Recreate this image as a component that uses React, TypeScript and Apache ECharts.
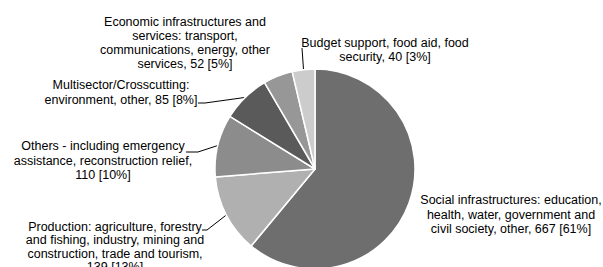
import React, { useEffect, useRef } from "react";
import * as echarts from "echarts";

const categories = [
  "Social infrastructures: education, health, water, government and civil society, other",
  "Production: agriculture, forestry and fishing, industry, mining and construction, trade and tourism",
  "Others - including emergency assistance, reconstruction relief",
  "Multisector/Crosscutting: environment, other",
  "Economic infrastructures and services: transport, communications, energy, other services",
  "Budget support, food aid, food security",
];
const values = [667, 139, 110, 85, 52, 40];
const percents = [61, 13, 10, 8, 5, 3];
const labelLines = [
  ["Social infrastructures: education,", "health, water, government and", "civil society, other, 667 [61%]"],
  ["Production: agriculture, forestry", "and fishing, industry, mining and", "construction, trade and tourism,", "139 [13%]"],
  ["Others - including emergency", "assistance, reconstruction relief,", "110 [10%]"],
  ["Multisector/Crosscutting:", "environment, other, 85 [8%]"],
  ["Economic infrastructures and", "services: transport,", "communications, energy, other", "services, 52 [5%]"],
  ["Budget support, food aid, food", "security, 40 [3%]"],
];
const colors = ["#6e6e6e", "#b0b0b0", "#8c8c8c", "#5a5a5a", "#979797", "#cccccc"];

// label anchor (center x, top y, line height) and label-line end points
const labelAnchors: [number, number, number][] = [
  [511, 193, 14.5],
  [115, 220, 13.5],
  [103, 139, 14.5],
  [121, 78, 14.5],
  [185, 15, 14],
  [385, 36, 14],
];
const lineEnds: ([number, number][] | null)[] = [
  null,
  [[207, 230], [202, 230]],
  [[198, 152], [186, 152]],
  [[205, 103], [198, 103]],
  null,
  [[302, 48], [302, 48]],
];

export default function App() {
  const ref = useRef<HTMLDivElement>(null);
  useEffect(() => {
    if (!ref.current) return;
    const chart = echarts.init(ref.current, null, { renderer: "svg" });
    chart.setOption({
      animation: false,
      backgroundColor: "#ffffff",
      series: [
        {
          type: "pie",
          center: [315, 169],
          radius: 100,
          startAngle: 90,
          clockwise: true,
          avoidLabelOverlap: false,
          itemStyle: { borderColor: "#ffffff", borderWidth: 1.5 },
          label: {
            show: true,
            position: "outside",
            fontFamily: "Liberation Sans, Arial, sans-serif",
            fontSize: 12.5,
            lineHeight: 14.5,
            color: "#000000",
            align: "center",
          },
          labelLine: {
            show: true,
            length: 5,
            length2: 5,
            lineStyle: { color: "#000000", width: 1 },
          },
          labelLayout: (params: any) => {
            const i = params.dataIndex;
            const a = labelAnchors[i];
            const res: any = {
              x: a[0],
              y: a[1],
              align: "center",
              verticalAlign: "top",
            };
            const ends = lineEnds[i];
            if (ends && params.labelLinePoints) {
              const p0 = params.labelLinePoints[0];
              res.labelLinePoints = [p0, ends[0], ends[1]];
            }
            return res;
          },
          data: categories.map((name, i) => ({
            name,
            value: values[i],
            itemStyle: { color: colors[i] },
            label: { formatter: labelLines[i].join("\n"), lineHeight: labelAnchors[i][2] },
            labelLine: { show: lineEnds[i] !== null },
          })),
        },
      ],
    });
    return () => chart.dispose();
  }, []);
  return (
    <div
      ref={ref}
      style={{ position: "fixed", left: 0, top: 0, width: 603, height: 267 }}
    />
  );
}
